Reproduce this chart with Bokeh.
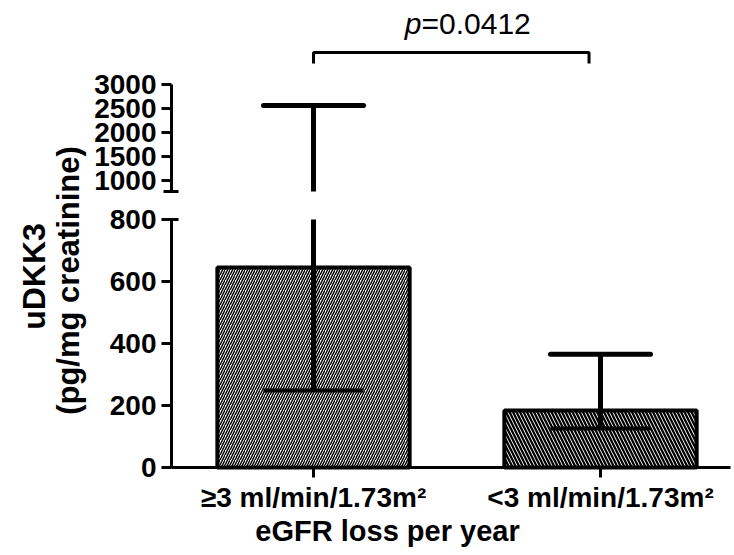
import math
from bokeh.plotting import figure
from bokeh.models import Range1d, LinearAxis, FixedTicker, Label
from bokeh.embed import file_html
from bokeh.resources import INLINE

# ---------------- data ----------------
groups = ["\u22653 ml/min/1.73m\u00b2", "<3 ml/min/1.73m\u00b2"]
x_pos = [1, 2]
means = [645, 184]
err_low = [248, 126]
err_high = [2560, 365]
hatches = ["/", "\\"]
hatch_scales = [5.0, 7.0]
hatch_weights = [1.45, 2.3]
lower_ticks = [0, 200, 400, 600, 800]
upper_ticks = [1000, 1500, 2000, 2500, 3000]
lower_max = 800      # top of lower segment
upper_min = 770      # bottom of upper segment
p_text = "=0.0412"
bracket_x = [1.0, 1.96]

FONT = "Liberation Sans"

# ---------------- layout (canvas pixels) ----------------
W, H = 732, 553
PX_PER_X = 287.0
X1_PX = 313.0
def xd(px):            # canvas x pixel -> x data
    return 1 + (px - X1_PX) / PX_PER_X

LOW_Y0, LOW_SCALE = 467.0, 0.31       # value 0 at y=467
UP_Y1000, UP_SCALE = 180.0, 0.048     # value 1000 at y=180
def yl(py):            # canvas y pixel -> lower-segment value
    return (LOW_Y0 - py) / LOW_SCALE
def yu(py):            # canvas y pixel -> upper-segment value
    return 1000 + (UP_Y1000 - py) / UP_SCALE

AXIS_X = 171

p = figure(width=W, height=H, output_backend="svg", toolbar_location=None,
           x_range=Range1d(xd(0), xd(W)), y_range=Range1d(yl(H), yl(0)),
           x_axis_location=None, y_axis_location=None,
           min_border_left=0, min_border_right=0, min_border_top=0,
           min_border_bottom=0, title=None)
p.extra_y_ranges = {"upper": Range1d(yu(H), yu(0))}
p.outline_line_color = None
p.grid.visible = False
p.background_fill_color = "white"
p.border_fill_color = "white"

def style_axis(ax, size="28px"):
    ax.minor_tick_line_color = None
    ax.major_tick_out = 10
    ax.major_tick_in = 0
    ax.major_tick_line_width = 3
    ax.axis_line_width = 3
    ax.major_label_text_font = FONT
    ax.major_label_text_font_style = "bold"
    ax.major_label_text_font_size = size
    ax.major_label_text_color = "black"
    ax.major_label_standoff = 5

# x axis
xa = LinearAxis(fixed_location=0, ticker=FixedTicker(ticks=x_pos),
                bounds=(xd(AXIS_X), xd(730)))
xa.major_label_overrides = {x: g for x, g in zip(x_pos, groups)}
style_axis(xa)
xa.major_label_standoff = 4
p.add_layout(xa, "below")

# lower y axis
ya = LinearAxis(fixed_location=xd(AXIS_X), ticker=FixedTicker(ticks=lower_ticks),
                bounds=(0, lower_max))
style_axis(ya)
p.add_layout(ya, "left")

# upper y axis (broken segment)
ua = LinearAxis(y_range_name="upper", fixed_location=xd(AXIS_X),
                ticker=FixedTicker(ticks=upper_ticks),
                bounds=(upper_min, upper_ticks[-1]))
style_axis(ua)
p.add_layout(ua, "left")

# axis break caps
p.segment(x0=[xd(163)], y0=[lower_max], x1=[xd(178)], y1=[lower_max],
          line_color="black", line_width=3)
p.segment(x0=[xd(163)], y0=[upper_min], x1=[xd(178)], y1=[upper_min],
          line_color="black", line_width=3, y_range_name="upper")

# bars
for i in range(len(x_pos)):
    p.vbar(x=[x_pos[i]], top=[means[i]], bottom=0, width=0.67,
           fill_color="white", line_color="black", line_width=4,
           hatch_pattern=hatches[i], hatch_color="black",
           hatch_scale=hatch_scales[i], hatch_weight=hatch_weights[i])

# error bars (split across the axis break)
cap_half = 50 / PX_PER_X
for i in range(len(x_pos)):
    x = x_pos[i]
    lo, hi = err_low[i], err_high[i]
    p.segment(x0=[x], y0=[lo], x1=[x], y1=[min(hi, lower_max)],
              line_color="black", line_width=5)
    p.segment(x0=[x - cap_half], y0=[lo], x1=[x + cap_half], y1=[lo],
              line_color="black", line_width=4)
    if hi > lower_max:
        p.segment(x0=[x], y0=[upper_min], x1=[x], y1=[hi],
                  line_color="black", line_width=5, y_range_name="upper")
        p.segment(x0=[x - cap_half], y0=[hi], x1=[x + cap_half], y1=[hi],
                  line_color="black", line_width=5, line_cap="round",
                  y_range_name="upper")
    else:
        p.segment(x0=[x - cap_half], y0=[hi], x1=[x + cap_half], y1=[hi],
                  line_color="black", line_width=5, line_cap="round")

# significance bracket
p.line(x=[bracket_x[0], bracket_x[0], bracket_x[1], bracket_x[1]],
       y=[yu(63), yu(52), yu(52), yu(63)], line_color="black", line_width=3,
       y_range_name="upper")
p.add_layout(Label(x=xd(421), y=yu(23), y_range_name="upper", text="p",
                   text_font=FONT, text_font_style="italic",
                   text_font_size="30px", text_align="right",
                   text_baseline="middle", text_color="black"))
p.add_layout(Label(x=xd(421), y=yu(23), y_range_name="upper", text=p_text,
                   text_font=FONT, text_font_size="30px", text_align="left",
                   text_baseline="middle", text_color="black"))

# axis titles
p.add_layout(Label(x=xd(387), y=yl(530), text="eGFR loss per year",
                   text_font=FONT, text_font_style="bold",
                   text_font_size="29px", text_align="center",
                   text_baseline="middle", text_color="black"))
p.add_layout(Label(x=xd(33), y=yl(276), text="uDKK3",
                   angle=math.pi / 2, text_font=FONT, text_font_style="bold",
                   text_font_size="32px", text_align="center",
                   text_baseline="middle", text_color="black"))
p.add_layout(Label(x=xd(68), y=yl(280), text="(pg/mg creatinine)",
                   angle=math.pi / 2, text_font=FONT, text_font_style="bold",
                   text_font_size="31px", text_align="center",
                   text_baseline="middle", text_color="black"))

open("out.html", "w").write(file_html(p, INLINE))
